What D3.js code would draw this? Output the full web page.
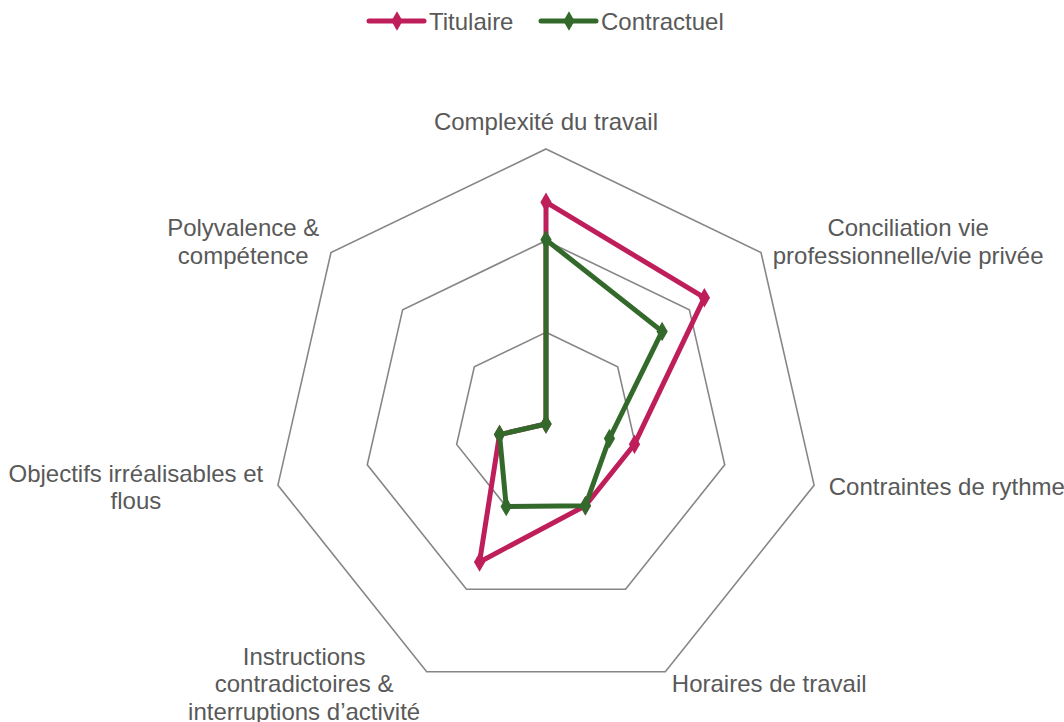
<!DOCTYPE html>
<html lang="fr">
<head>
    <meta charset="UTF-8">
    <title>Radar Titulaire / Contractuel</title>
    <script src="https://d3js.org/d3.v7.min.js"></script>
    <style>
        body { margin: 0; background: #fff; }
        text { font-family: "Liberation Sans", Arial, sans-serif; fill: #595959; }
    </style>
</head>
<body>
    <svg width="1064" height="722"></svg>
    <script>
        // Axes of the radar, clockwise from the top
        const categories = [
            ["Complexité du travail"],
            ["Conciliation vie", "professionnelle/vie privée"],
            ["Contraintes de rythme"],
            ["Horaires de travail"],
            ["Instructions", "contradictoires &", "interruptions d\u2019activité"],
            ["Objectifs irréalisables et", "flous"],
            ["Polyvalence &", "compétence"]
        ];
        const titulaire = [2.42, 2.21, 0.99, 0.99, 1.67, 0.52, 0];
        const contractuel = [2.01, 1.62, 0.71, 0.99, 1.0, 0.52, 0];
        const ringTicks = [1, 2, 3];
        const seriesNames = ["Titulaire", "Contractuel"];

        const colors = { Titulaire: "#BE1E5A", Contractuel: "#336A2B" };

        const svg = d3.select("svg");
        const cx = 546, cy = 424, radius = 275;
        const r = d3.scaleLinear().domain([0, 3]).range([0, radius]);
        const n = categories.length;
        const angle = i => -Math.PI / 2 + i * 2 * Math.PI / n;
        const pt = (i, v) => [cx + r(v) * Math.cos(angle(i)), cy + r(v) * Math.sin(angle(i))];

        // Grid rings
        svg.append("g").selectAll("polygon")
            .data(ringTicks)
            .join("polygon")
            .attr("points", t => d3.range(n).map(i => pt(i, t).join(",")).join(" "))
            .attr("fill", "none")
            .attr("stroke", "#868686")
            .attr("stroke-width", 1.6);

        // Category labels
        const lineH = 27.5;
        const labels = svg.append("g").attr("font-size", 24);
        categories.forEach((lines, i) => {
            const a = angle(i);
            const pad = i === 0 ? 12 : 15;
            const px = cx + (radius + pad) * Math.cos(a);
            const py = cy + (radius + pad) * Math.sin(a);
            const g = labels.append("g");
            const texts = lines.map(l => g.append("text").attr("text-anchor", "middle").text(l));
            const w = d3.max(texts, t => t.node().getComputedTextLength());
            const c = Math.cos(a);
            let mid = px;
            if (c > 0.1) mid = px + w / 2;
            else if (c < -0.1) mid = px - w / 2;
            const blockH = lines.length * lineH;
            const top = i === 0 ? py - blockH : py - blockH / 2;
            texts.forEach((t, j) => t.attr("x", mid).attr("y", top + j * lineH + 20.5));
        });

        // Series
        const diamond = d3.symbol().type(d3.symbolDiamond).size(110);
        const line = d3.line().curve(d3.curveLinearClosed);
        [["Titulaire", titulaire], ["Contractuel", contractuel]].forEach(([name, vals]) => {
            const pts = vals.map((v, i) => pt(i, v));
            const g = svg.append("g");
            g.append("path")
                .attr("d", line(pts))
                .attr("fill", "none")
                .attr("stroke", colors[name])
                .attr("stroke-width", 5)
                .attr("stroke-linejoin", "round");
            g.selectAll("path.m")
                .data(pts)
                .join("path")
                .attr("class", "m")
                .attr("d", diamond)
                .attr("transform", d => `translate(${d[0]},${d[1]})`)
                .attr("fill", colors[name]);
        });

        // Legend
        const legend = svg.append("g").attr("font-size", 24);
        const legX = [369, 541];
        seriesNames.forEach((name, i) => {
            const g = legend.append("g").attr("transform", `translate(${legX[i]},21)`);
            g.append("line").attr("x1", 0).attr("x2", 55)
                .attr("stroke", colors[name]).attr("stroke-width", 5).attr("stroke-linecap", "round");
            g.append("path").attr("d", diamond).attr("transform", "translate(28,0)").attr("fill", colors[name]);
            g.append("text").attr("x", 60).attr("y", 8.5).text(name);
        });
    </script>
</body>
</html>
